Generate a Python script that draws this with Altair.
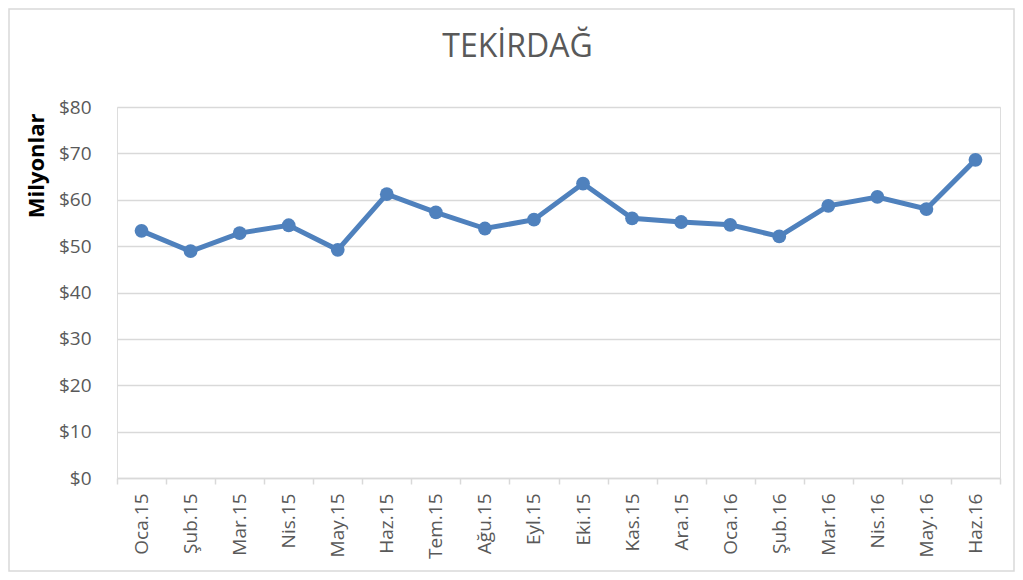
import altair as alt
import pandas as pd

months = ["Oca.15", "Şub.15", "Mar.15", "Nis.15", "May.15", "Haz.15", "Tem.15", "Ağu.15", "Eyl.15",
          "Eki.15", "Kas.15", "Ara.15", "Oca.16", "Şub.16", "Mar.16", "Nis.16", "May.16", "Haz.16"]
values = [53.3, 48.9, 52.8, 54.5, 49.2, 61.2, 57.3, 53.8, 55.7,
          63.5, 56.0, 55.2, 54.6, 52.1, 58.7, 60.6, 58.0, 68.6]
y_ticks = [0, 10, 20, 30, 40, 50, 60, 70, 80]

df = pd.DataFrame({"ay": months, "deger": values})

FONT = "Open Sans"
BLUE = "#4F81BD"
GREY = "#595959"
LINE = "#d9d9d9"

x_enc = alt.X("ay:N", sort=months, title=None,
              scale=alt.Scale(type="band", paddingInner=0, paddingOuter=0),
              axis=alt.Axis(labelAngle=270, labelAlign="right", labelBaseline="middle",
                            labelPadding=9, labelFont=FONT, labelFontSize=19, labelColor=GREY,
                            domainColor=LINE, domainWidth=1.5, tickColor=LINE, tickWidth=1.5,
                            tickSize=6, tickBand="extent", grid=False))
y_enc = alt.Y("deger:Q", title="Milyonlar",
              scale=alt.Scale(domain=[0, 80], nice=False),
              axis=alt.Axis(values=y_ticks, labelExpr="'$' + datum.value", labelFont=FONT,
                            labelFontSize=19, labelColor=GREY, labelPadding=26,
                            domain=False, ticks=False, gridColor=LINE, gridWidth=1.5,
                            titleFont=FONT, titleFontSize=22, titleFontWeight="bold",
                            titleColor="black", titleAnchor="end", titlePadding=10,
                            titleY=6))

line = alt.Chart(df).mark_line(color=BLUE, strokeWidth=5).encode(x=x_enc, y=y_enc)
pts = alt.Chart(df).mark_point(filled=True, color=BLUE, size=190, opacity=1).encode(x=x_enc, y=y_enc)

border = alt.Chart(pd.DataFrame({"k": [0]})).mark_rect(
    fill=None, stroke=LINE, strokeWidth=1.5).encode(
    x=alt.value(-108), x2=alt.value(897), y=alt.value(-98), y2=alt.value(464))

chart = alt.layer(border, line, pts).properties(
    width=883, height=371,
    padding={"left": 109, "top": 99, "right": 15, "bottom": 94},
    autosize=alt.AutoSizeParams(type="none"),
    title=alt.TitleParams("TEKİRDAĞ", font=FONT, fontSize=32, fontWeight="normal",
                          color=GREY, anchor="middle", baseline="alphabetic",
                          offset=-81, dx=-41),
).configure_view(stroke=None).configure(background="white")

chart.save("out.html", embed_options={"renderer": "svg", "actions": False})
